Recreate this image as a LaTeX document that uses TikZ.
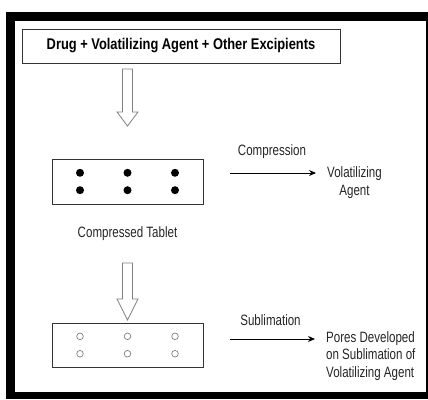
\documentclass[tikz,border=0pt]{standalone}
\usepackage{fontspec}
\setmainfont{Liberation Sans}[FakeStretch=0.77]
\newfontfamily\titlefont{Liberation Sans}[FakeStretch=0.83]
\usetikzlibrary{arrows.meta,positioning}

\begin{document}
\begin{tikzpicture}[x=1pt,y=-1pt,
    box/.style={draw=black!80,line width=1pt,inner sep=0pt},
    txt/.style={font=\fontsize{15}{17.5}\selectfont,text=black!85,inner sep=0pt},
    flow/.style={-{Stealth[length=7pt,width=6pt]},line width=0.9pt}]
    \useasboundingbox (0,0) rectangle (428,399);
    \fill[black] (6,12) rectangle (428,399);
    \fill[white] (15,21) rectangle (426,392);

    \node[box,minimum width=318,minimum height=34,font=\titlefont\bfseries\fontsize{15.5}{18}\selectfont] (mix) at (181,46) {Drug + Volatilizing Agent + Other Excipients};

    \node[box,minimum width=151,minimum height=45] (tab1) at (127.5,181.5) {};
    \node[box,minimum width=151,minimum height=44] (tab2) at (127.5,345) {};
    \foreach \dx in {-47.5,0,47.5}
      \foreach \dy in {-8.7,8.7} {
        \fill ([shift={(\dx,\dy)}]tab1.center) circle [radius=4pt];
        \draw[gray,line width=0.7pt] ([shift={(\dx,\dy)}]tab2.center) circle [radius=3.3pt];
      }

    \foreach \ytop/\yneck/\ytip in {69/112/126, 263/299/320}
      \draw[gray,line width=0.8pt] (122.5,\ytop) -- (132.5,\ytop) -- (132.5,\yneck) -- (138,\yneck)
        -- (127.5,\ytip) -- (117,\yneck) -- (122.5,\yneck) -- cycle;

    \node[txt] (tablbl) at (127.5,234) {Compressed Tablet};

    \node[txt] (cmplbl) at (272,152) {Compression};
    \node[txt,align=center] (vol) at (354.5,182.5) {Volatilizing\\Agent};
    \coordinate (cmpfrom) at (230,173);
    \draw[flow,shorten >=11pt] (cmpfrom) -- (cmpfrom -| vol.west);

    \node[txt] (sublbl) at (270.5,320) {Sublimation};
    \node[txt,align=left,anchor=west] (pores) at (326,356) {Pores Developed\\on Sublimation of\\Volatilizing Agent};
    \coordinate (subfrom) at (230,339);
    \draw[flow,shorten >=11pt] (subfrom) -- (subfrom -| pores.west);
\end{tikzpicture}
\end{document}
